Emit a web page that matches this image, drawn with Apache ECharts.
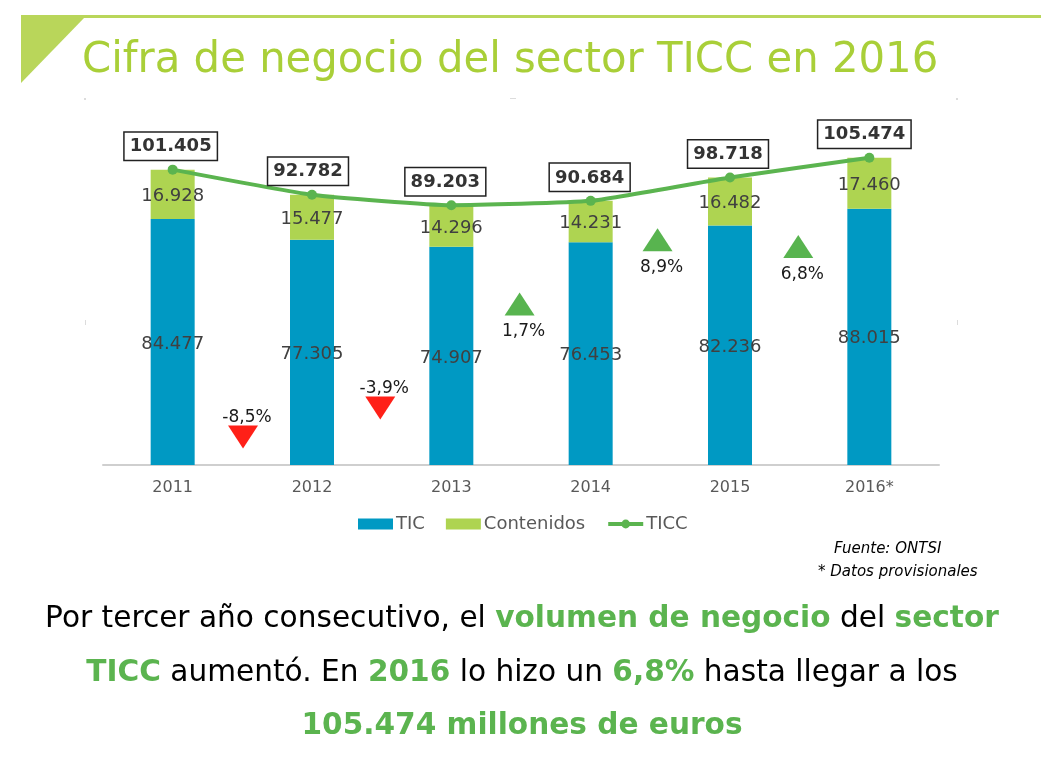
<!DOCTYPE html>
<html>
<head>
<meta charset="utf-8">
<title>Cifra de negocio del sector TICC en 2016</title>
<script src="https://cdn.jsdelivr.net/npm/echarts@6/dist/echarts.min.js"></script>
<style>
html, body { margin: 0; padding: 0; background: #fff; }
#chart { width: 1061px; height: 775px; }
</style>
</head>
<body>
<div id="chart"></div>
<script>
var years = ['2011', '2012', '2013', '2014', '2015', '2016*'];
var tic = [84477, 77305, 74907, 76453, 82236, 88015];
var contenidos = [16928, 15477, 14296, 14231, 16482, 17460];
var ticc = [101405, 92782, 89203, 90684, 98718, 105474];
var changes = ['-8,5%', '-3,9%', '1,7%', '8,9%', '6,8%'];
var changeValues = [-8.5, -3.9, 1.7, 8.9, 6.8];

var FONT = '"DejaVu Sans", Verdana, sans-serif';
var GREEN = '#5bb44f';
var LIME = '#a9cf38';

// where the arrows sit: x counts in category widths, y in axis units
var arrowSlots = [1.005, 1.99, 2.99, 3.98, 4.99];
var arrowLevels = [9600, 19600, 55300, 77300, 75000];
// total boxes were hand placed in the original, not centred on the points
var boxNudge = [-2, -4, -6, -1, -2, -5];

function dotted(v) {
	return String(v).replace(/\B(?=(\d{3})+$)/g, '.');
}

var arrowData = changes.map(function(text, i) {
	var down = changeValues[i] < 0;
	return {
		value: [arrowSlots[i], arrowLevels[i]],
		symbolRotate: down ? 180 : 0,
		itemStyle: { color: down ? '#ff2018' : '#58b44f', opacity: 1 },
		label: {
			show: true,
			formatter: text,
			color: '#1a1a1a',
			fontSize: 17,
			position: down ? 'top' : 'bottom',
			distance: down ? -1 : 8,
			offset: [4, 0]
		}
	};
});

var ticcData = ticc.map(function(v, i) {
	return { value: v, label: { offset: [boxNudge[i], 0] } };
});

var boldGreen = { color: GREEN, fontWeight: 'bold', fontFamily: FONT, fontSize: 29.6 };
var plain = { color: '#000', fontWeight: 'normal', fontFamily: FONT, fontSize: 29.6 };
var note = { color: '#000', fontFamily: FONT, fontSize: 15, fontStyle: 'italic', fontWeight: 'normal' };

function mark(x, y, w, h) {
	return { type: 'rect', shape: { x: x, y: y, width: w, height: h }, style: { fill: '#dcdcdc' } };
}

var option = {
	backgroundColor: '#fff',
	animation: false,
	textStyle: { fontFamily: FONT },
	title: [{
		text: 'Cifra de negocio del sector TICC en 2016',
		left: 77,
		top: 35,
		textStyle: { color: LIME, fontFamily: FONT, fontSize: 41.8, fontWeight: 'normal' }
	}, {
		text: '{n|Por tercer año consecutivo, el }{g|volumen de negocio}{n| del }{g|sector}',
		left: 517, top: 599, textAlign: 'center',
		textStyle: { rich: { n: plain, g: boldGreen } }
	}, {
		text: '{g|TICC}{n| aumentó. En }{g|2016}{n| lo hizo un }{g|6,8%}{n| hasta llegar a los}',
		left: 517, top: 653, textAlign: 'center',
		textStyle: { rich: { n: plain, g: boldGreen } }
	}, {
		text: '{g|105.474 millones de euros}',
		left: 517, top: 706, textAlign: 'center',
		textStyle: { rich: { n: plain, g: boldGreen } }
	}, {
		text: 'Fuente: ONTSI',
		left: 829, top: 537,
		textStyle: note
	}, {
		text: '* Datos provisionales',
		left: 813, top: 560,
		textStyle: note
	}],
	legend: {
		data: [
			{ name: 'TIC', icon: 'rect' },
			{ name: 'Contenidos', icon: 'rect' },
			{ name: 'TICC', lineStyle: { width: 4 } }
		],
		left: 353,
		top: 510,
		itemWidth: 35,
		itemHeight: 11,
		itemGap: 21,
		textStyle: { color: '#595959', fontSize: 18, padding: [0, 0, 0, -2] }
	},
	grid: { left: 103, top: 98, width: 836, height: 367 },
	xAxis: [{
		type: 'category',
		data: years,
		axisLine: { lineStyle: { color: '#cfcfcf', width: 2 } },
		axisTick: { show: false },
		axisLabel: { color: '#595959', fontSize: 16, margin: 15 }
	}, {
		type: 'value',
		min: 0,
		max: 6,
		show: false
	}],
	yAxis: {
		type: 'value',
		min: 0,
		max: 126000,
		show: false
	},
	series: [{
		name: 'TIC',
		type: 'bar',
		stack: 'total',
		data: tic,
		barWidth: 44,
		itemStyle: { color: '#0099c3' },
		label: {
			show: true,
			position: 'inside',
			offset: [0, 2],
			color: '#404040',
			fontSize: 18,
			formatter: function(p) { return dotted(p.value); }
		}
	}, {
		name: 'Contenidos',
		type: 'bar',
		stack: 'total',
		data: contenidos,
		itemStyle: { color: '#aed451' },
		label: {
			show: true,
			position: 'inside',
			offset: [0, 2],
			color: '#404040',
			fontSize: 18,
			formatter: function(p) { return dotted(p.value); }
		}
	}, {
		name: 'TICC',
		type: 'line',
		data: ticcData,
		smooth: 0.15,
		symbol: 'circle',
		symbolSize: 10,
		z: 5,
		lineStyle: { color: GREEN, width: 4 },
		itemStyle: { color: GREEN },
		label: {
			show: true,
			position: 'top',
			distance: 5,
			color: '#333',
			fontSize: 18,
			fontWeight: 'bold',
			backgroundColor: '#fff',
			borderColor: '#222',
			borderWidth: 1.5,
			padding: [5, 5, 4, 5],
			formatter: function(p) { return dotted(p.value); }
		}
	}, {
		name: 'Variación',
		type: 'scatter',
		xAxisIndex: 1,
		data: arrowData,
		symbol: 'triangle',
		symbolSize: [30, 23],
		z: 6
	}],
	graphic: [{
		type: 'rect',
		shape: { x: 21, y: 15, width: 1020, height: 3 },
		style: { fill: '#b9d65a' }
	}, {
		type: 'polygon',
		shape: { points: [[21, 17], [85, 17], [21, 83]] },
		style: { fill: '#b9d65a' }
	},
	mark(84, 98, 2, 2), mark(510, 98, 6, 1), mark(956, 98, 2, 2),
	mark(85, 320, 1, 5), mark(957, 320, 1, 5)]
};

var chart = echarts.init(document.getElementById('chart'));
chart.setOption(option);
</script>
</body>
</html>
